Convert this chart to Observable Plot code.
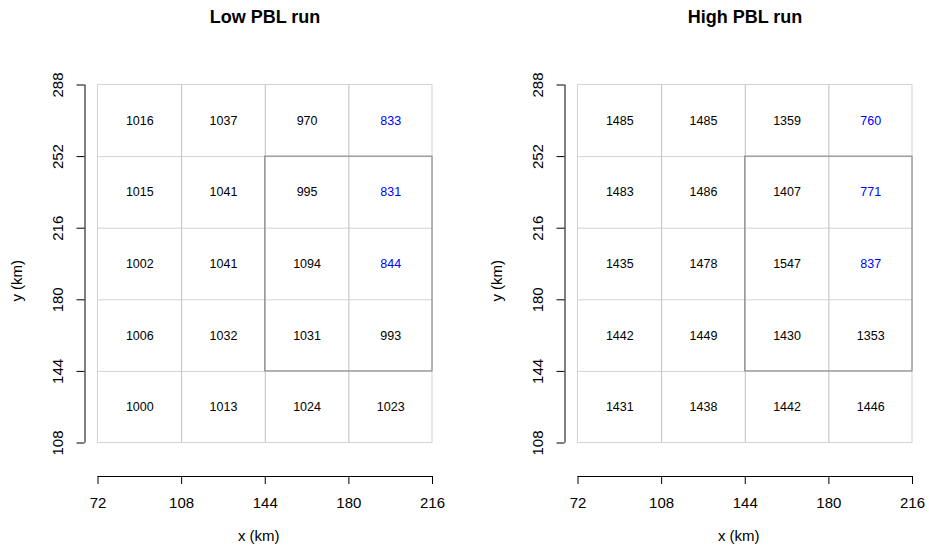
<!DOCTYPE html>
<html><head><meta charset="utf-8">
<script src="https://cdn.jsdelivr.net/npm/d3@7"></script>
<script src="https://cdn.jsdelivr.net/npm/@observablehq/plot@0.6"></script>
<style>
body{margin:0;background:#fff;font-family:"Liberation Sans",Arial,sans-serif}
#wrap{position:relative;width:929px;height:548px;overflow:hidden}
.panel{position:absolute;top:0}
.title{position:absolute;top:7px;width:334px;font-weight:bold;font-size:18px;text-align:center;color:#000}
</style></head><body><div id="wrap"></div>
<script>
const titles = ["Low PBL run", "High PBL run"];
const xCenters = [90, 126, 162, 198];
const yCenters = [270, 234, 198, 162, 126];
const lowValues = [
  [1016, 1037, 970, 833],
  [1015, 1041, 995, 831],
  [1002, 1041, 1094, 844],
  [1006, 1032, 1031, 993],
  [1000, 1013, 1024, 1023]
];
const highValues = [
  [1485, 1485, 1359, 760],
  [1483, 1486, 1407, 771],
  [1435, 1478, 1547, 837],
  [1442, 1449, 1430, 1353],
  [1431, 1438, 1442, 1446]
];
const blueFlags = [
  [0, 0, 0, 1],
  [0, 0, 0, 1],
  [0, 0, 0, 1],
  [0, 0, 0, 0],
  [0, 0, 0, 0]
];
const xTicks = [72, 108, 144, 180, 216];
const yTicks = [108, 144, 180, 216, 252, 288];
const boxX = [144, 216];
const boxY = [144, 252];

const xDomain = [66.4, 216];
const yDomain = [91.16, 288];

function panel(values, title, width, left) {
  const cells = [];
  yCenters.forEach((y, i) => xCenters.forEach((x, j) =>
    cells.push({x, y, v: values[i][j], c: blueFlags[i][j] ? "blue" : "black"})));
  const x0 = xTicks[0], x1 = xTicks[xTicks.length - 1];
  const y0 = yTicks[0], y1 = yTicks[yTicks.length - 1];
  const svg = Plot.plot({
    width, height: 548,
    marginLeft: 84.5, marginRight: width - 432, marginTop: 84.5, marginBottom: 72,
    x: {domain: xDomain},
    y: {domain: yDomain},
    color: {type: "identity"},
    style: {fontFamily: "'Liberation Sans', Arial, sans-serif", fontSize: "14px", background: "white", color: "black", overflow: "visible"},
    marks: [
      Plot.ruleX(xTicks.slice(1, -1), {y1: y0, y2: y1, stroke: "#bebebe", strokeWidth: 1}),
      Plot.ruleY(yTicks.slice(1, -1), {x1: x0, x2: x1, stroke: "#d3d3d3", strokeWidth: 1}),
      Plot.rect([0], {x1: x0, x2: x1, y1: y0, y2: y1, fill: "none", stroke: "#d3d3d3", strokeWidth: 1}),
      Plot.rect([0], {x1: boxX[0], x2: boxX[1], y1: boxY[0], y2: boxY[1], fill: "none", stroke: "#7f7f7f", strokeWidth: 1}),
      Plot.text(cells, {x: "x", y: "y", text: d => String(d.v), fill: "c", fontSize: 12.5}),
      Plot.ruleX([xDomain[0]], {y1: y0, y2: y1, stroke: "black"}),
      Plot.ruleY([yDomain[0]], {x1: x0, x2: x1, stroke: "black"}),
      Plot.axisX(xTicks, {tickSize: 8, tickPadding: 13, fontSize: 15, label: "x (km)", labelAnchor: "center", labelOffset: 64, labelArrow: "none"}),
      Plot.axisY(yTicks, {tickSize: 8, tickPadding: 14, tickRotate: -90, fontSize: 15, label: "y (km)", labelAnchor: "center", labelOffset: 74, labelArrow: "none"})
    ]
  });
  const div = document.createElement("div");
  div.className = "panel";
  div.style.left = left + "px";
  div.appendChild(svg);
  const t = document.createElement("div");
  t.className = "title";
  t.style.left = (left + 98) + "px";
  t.textContent = title;
  const wrap = document.getElementById("wrap");
  wrap.appendChild(div);
  wrap.appendChild(t);
}
panel(lowValues, titles[0], 464, 0);
panel(highValues, titles[1], 449, 480);
</script>
</body></html>
